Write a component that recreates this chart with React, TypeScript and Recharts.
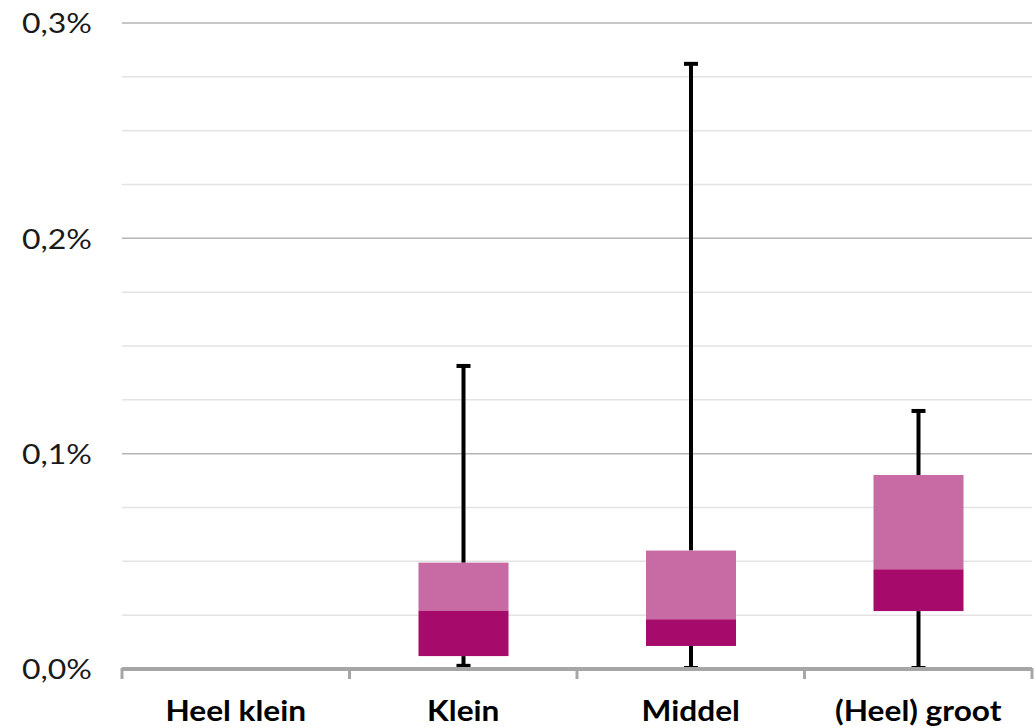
import React from "react";
import {
  ComposedChart,
  Bar,
  XAxis,
  YAxis,
  CartesianGrid,
} from "recharts";

const categories = ["Heel klein", "Klein", "Middel", "(Heel) groot"];
const minValues: (number | null)[] = [null, 0.001, 0, 0];
const q1Values: (number | null)[] = [null, 0.006, 0.0107, 0.0269];
const medianValues: (number | null)[] = [null, 0.0271, 0.0231, 0.0463];
const q3Values: (number | null)[] = [null, 0.0494, 0.055, 0.0901];
const maxValues: (number | null)[] = [null, 0.1412, 0.2815, 0.1203];

const majorTicks = [0, 0.1, 0.2, 0.3];
const allTicks = [0, 0.025, 0.05, 0.075, 0.1, 0.125, 0.15, 0.175, 0.2, 0.225, 0.25, 0.275, 0.3];

const data = categories.map((name, i) => ({
  name,
  min: minValues[i],
  q1: q1Values[i],
  median: medianValues[i],
  q3: q3Values[i],
  max: maxValues[i],
}));

const UPPER = "#C86BA5";
const LOWER = "#A60B6B";
const AXIS = "#a6a6a6";
const FONT = "Lato, 'Open Sans', sans-serif";

const isMajor = (v: number) => majorTicks.some((m) => Math.abs(m - v) < 1e-9);

const BoxShape = (props: any) => {
  const { x, y, width, height, payload } = props;
  if (!payload || payload.min == null || payload.max == null) return null;
  const span = payload.max - payload.min;
  if (!(span > 0) || !(height > 0)) return null;
  const k = height / span;
  const py = (v: number) => y + (payload.max - v) * k;
  const cx = x + width / 2;
  const capW = 14;
  return (
    <g>
      <line x1={cx} x2={cx} y1={py(payload.max)} y2={py(payload.q3)} stroke="#000" strokeWidth={4} />
      <line x1={cx} x2={cx} y1={py(payload.q1)} y2={py(payload.min)} stroke="#000" strokeWidth={4} />
      <line x1={cx - capW / 2} x2={cx + capW / 2} y1={py(payload.max) + 1} y2={py(payload.max) + 1} stroke="#000" strokeWidth={4} />
      <line x1={cx - capW / 2} x2={cx + capW / 2} y1={py(payload.min) - 1} y2={py(payload.min) - 1} stroke="#000" strokeWidth={4} />
      <rect x={x} y={py(payload.q3)} width={width} height={py(payload.median) - py(payload.q3)} fill={UPPER} />
      <rect x={x} y={py(payload.median)} width={width} height={py(payload.q1) - py(payload.median)} fill={LOWER} />
    </g>
  );
};

const XTick = (props: any) => {
  const { x, y, payload, index, width, visibleTicksCount } = props;
  const half =
    payload && typeof payload.offset === "number" && payload.offset > 0
      ? payload.offset
      : width / (visibleTicksCount || 4) / 2;
  const isLast = index === (visibleTicksCount || 4) - 1;
  return (
    <g>
      <line x1={x - half} x2={x - half} y1={y - 1} y2={y + 10} stroke={AXIS} strokeWidth={3} />
      {isLast && (
        <line x1={x + half} x2={x + half} y1={y - 1} y2={y + 10} stroke={AXIS} strokeWidth={3} />
      )}
      <text
        transform={`translate(${x},${y + 52}) scale(1.13,1)`}
        textAnchor="middle"
        fontFamily={FONT}
        fontWeight={700}
        fontSize={28}
        fill="#000"
      >
        {payload.value}
      </text>
    </g>
  );
};

const fmt = (v: number) => v.toFixed(1).replace(".", ",") + "%";

const YTick = (props: any) => {
  const { x, y, payload } = props;
  if (!isMajor(payload.value)) return <g />;
  return (
    <text
      transform={`translate(${x},${y}) scale(1.23,1)`}
      textAnchor="end"
      dominantBaseline="central"
      fontFamily={FONT}
      fontSize={26}
      fill="#1a1a1a"
    >
      {fmt(payload.value)}
    </text>
  );
};

const GridLine = (props: any) => {
  const { x1, x2, y1, y2, index } = props;
  const major = index % 4 === 0;
  return (
    <line
      x1={x1}
      x2={x2}
      y1={y1}
      y2={y2}
      stroke={major ? "#b5b5b5" : "#e3e3e3"}
      strokeWidth={1.5}
    />
  );
};

export default function App() {
  return (
    <div style={{ position: "absolute", left: 0, top: 0, width: 1036, height: 728, background: "#fff" }}>
      <ComposedChart
        width={1036}
        height={728}
        data={data}
        margin={{ top: 23, right: 4, bottom: 0, left: 0 }}
      >
        <YAxis
          type="number"
          domain={[0, 0.3]}
          ticks={allTicks}
          axisLine={false}
          tickLine={false}
          tickSize={0}
          tickMargin={30}
          width={122}
          interval={0}
          tick={<YTick />}
        />
        <CartesianGrid vertical={false} horizontal={(p: any) => <GridLine {...p} />} />
        <XAxis
          dataKey="name"
          type="category"
          height={59}
          axisLine={{ stroke: AXIS, strokeWidth: 4 }}
          tickLine={false}
          tickSize={0}
          tickMargin={0}
          interval={0}
          tick={<XTick />}
        />
        <Bar
          dataKey={(d: any) => (d.min == null ? null : [d.min, d.max])}
          barSize={90}
          shape={<BoxShape />}
          isAnimationActive={false}
        />
      </ComposedChart>
    </div>
  );
}
